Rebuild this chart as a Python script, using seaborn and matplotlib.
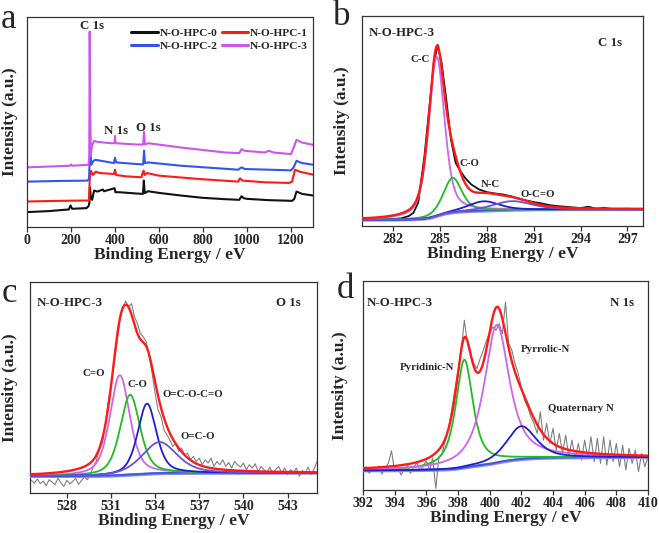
import numpy as np
import pandas as pd
import matplotlib
matplotlib.use("Agg")
import matplotlib.pyplot as plt
import seaborn as sns

# ---------------- Panel a: XPS survey spectra ----------------
sample_names = ["N-O-HPC-0", "N-O-HPC-1", "N-O-HPC-2", "N-O-HPC-3"]

survey0_x = [0, 100, 190, 198, 205, 270, 280, 284, 286, 290, 296, 305, 320, 345, 350, 398, 402, 420,
             500, 527, 531, 535, 550, 600, 700, 800, 900, 965, 975, 985, 1000, 1100, 1205, 1215, 1225, 1250, 1300]
survey0_y = [45, 48, 53, 65, 55, 57, 63, 75, 120, 90, 82, 110, 107, 113, 108, 117, 105, 105,
             101, 100, 140, 102, 108, 103, 95, 88, 84, 82, 93, 87, 85, 81, 79, 85, 107, 100, 95]

survey1_x = [0, 150, 275, 282, 285, 290, 300, 312, 330, 395, 400, 405, 450, 520, 527, 530, 535, 545,
             600, 780, 960, 968, 980, 1080, 1190, 1205, 1218, 1240, 1300]
survey1_y = [77, 79, 80, 81, 145, 170, 157, 167, 163, 160, 173, 157, 153, 150, 167, 170, 157, 163,
             155, 145, 137, 147, 140, 135, 133, 137, 173, 167, 158]

survey2_x = [0, 150, 275, 282, 285, 288, 292, 300, 310, 395, 400, 405, 500, 528, 532, 536, 550, 700,
             960, 975, 990, 1100, 1200, 1212, 1225, 1250, 1300]
survey2_y = [137, 139, 140, 145, 205, 230, 188, 198, 203, 193, 209, 195, 190, 189, 230, 193, 195, 185,
             173, 180, 175, 173, 171, 180, 200, 193, 188]

survey3_x = [0, 195, 200, 205, 280, 283, 285, 287, 290, 295, 305, 320, 380, 398, 400, 402, 500, 528,
             532, 536, 550, 700, 900, 965, 975, 990, 1080, 1100, 1120, 1200, 1212, 1225, 1250, 1300]
survey3_y = [180, 185, 189, 185, 188, 215, 590, 385, 215, 245, 260, 257, 253, 253, 275, 253, 249, 249,
             287, 249, 253, 240, 225, 223, 235, 230, 225, 230, 225, 220, 240, 263, 255, 248]

survey_ticks = [0, 200, 400, 600, 800, 1000, 1200]

# ---------------- Panel b: C 1s ----------------
c1s_labels = ["C-C", "C-O", "N-C", "O-C=O"]
c1s_center = [284.78, 285.8, 287.8, 289.6]
c1s_height = [480, 105, 29, 27]
c1s_fwhm = [1.2, 1.4, 2.4, 3.0]
c1s_eta = [0.5, 0.5, 0.5, 0.5]
c1s_bg_low, c1s_bg_high = 18, 50
c1s_raw_x = [280, 281, 282, 282.5, 283, 283.3, 283.6, 284.0, 284.3, 284.6, 284.85, 285.1, 285.4, 285.7,
             286.0, 286.3, 286.6, 287, 287.5, 288, 288.5, 289, 289.5, 290, 290.5, 291, 291.5, 292,
             292.5, 293, 293.5, 294, 294.5, 295, 295.5, 296, 297, 298]
c1s_raw_y = [18, 19, 21, 23, 30, 40, 70, 210, 350, 490, 545, 490, 380, 260, 190, 165, 145, 125, 110, 102,
             98, 95, 90, 83, 77, 72, 68, 63, 60, 58, 56, 54, 58, 52, 55, 51, 52, 50]
c1s_ticks = [282, 285, 288, 291, 294, 297]

# ---------------- Panel c: O 1s ----------------
o1s_labels = ["C=O", "C-O", "O=C-O-C=O", "O=C-O"]
o1s_center = [531.6, 532.3, 533.45, 534.3]
o1s_height = [302, 241, 212, 95]
o1s_fwhm = [1.6, 1.6, 1.5, 2.8]
o1s_eta = [0.5, 0.5, 0.5, 0.5]
o1s_bg_low, o1s_bg_high = 50, 60
o1s_raw_y = [38, 30, 42, 28, 36, 22, 40, 33, 25, 45, 30, 20, 38, 27, 35, 44, 26, 38, 48, 40, 55,
             80, 95, 130, 150, 200, 270, 320, 390, 450, 520, 555, 578, 560, 570, 530, 510, 480, 470,
             455, 410, 360, 300, 250, 230, 190, 175, 160, 140, 150, 125, 135, 115, 120, 100, 110, 95,
             105, 85, 100, 90, 105, 80, 95, 85, 100, 80, 92, 75, 95, 85, 78, 90, 70, 85, 75, 88, 65,
             80, 70, 62, 78, 58, 72, 80, 60, 75, 55, 70, 62, 75, 50, 68, 60, 78, 55, 72, 95]
o1s_raw_start, o1s_raw_end = 525.6, 545.0
o1s_ticks = [528, 531, 534, 537, 540, 543]

# ---------------- Panel d: N 1s ----------------
n1s_labels = ["Pyridinic-N", "Pyrrolic-N", "Quaternary N"]
n1s_center = [398.4, 400.45, 402.0]
n1s_height = [325, 415, 100]
n1s_fwhm = [1.3, 1.9, 2.2]
n1s_eta = [0.8, 0.8, 0.6]
n1s_bg_low, n1s_bg_high = 58, 98
n1s_raw_y = [60, 70, 50, 68, 55, 72, 48, 65, 80, 118, 55, 70, 45, 62, 75, 50, 68, 82, 58, 72, 88, 60,
             95, 5, 100, 110, 150, 185, 240, 300, 360, 420, 510, 440, 400, 380, 365, 395, 420, 450,
             470, 490, 480, 500, 470, 565, 440, 420, 380, 350, 310, 270, 250, 220, 200, 170, 235, 150,
             200, 140, 185, 120, 170, 110, 165, 100, 150, 95, 140, 90, 150, 95, 160, 85, 155, 80, 160,
             75, 150, 85, 140, 70, 135, 60, 125, 80, 120, 55, 110, 70, 100]
n1s_raw_start, n1s_raw_end = 392.0, 410.0
n1s_ticks = [392, 394, 396, 398, 400, 402, 404, 406, 408, 410]


def pvoigt(x, center, height, fwhm, eta):
    lor = 1.0 / (1.0 + ((x - center) / (fwhm / 2.0)) ** 2)
    gau = np.exp(-4 * np.log(2) * ((x - center) / fwhm) ** 2)
    return height * (eta * lor + (1 - eta) * gau)


def shirley(total, low, high):
    cum = np.cumsum(total)
    return low + (high - low) * cum / cum[-1]


# ---------------- styling ----------------
sns.set_theme(style="white")
plt.rcParams["font.family"] = ["Liberation Serif", "DejaVu Serif"]
plt.rcParams["font.weight"] = "bold"
plt.rcParams["axes.labelweight"] = "bold"
plt.rcParams["axes.edgecolor"] = "#333333"
plt.rcParams["axes.linewidth"] = 0.9

fig = plt.figure(figsize=(6.59, 5.33), dpi=100)
W, H = 659.0, 533.0


def add_ax(left, top, right, bottom):
    return fig.add_axes([left / W, 1 - bottom / H, (right - left) / W, (bottom - top) / H])


ax_a = add_ax(27, 17, 313, 227)
ax_b = add_ax(362, 16, 643, 226)
ax_c = add_ax(30, 282, 317, 493)
ax_d = add_ax(363, 281, 648, 490)

RED = "#ff1a1a"
MAG = "#cc66ee"
GRN = "#22bb22"
BLU = "#1f1fcc"
VIO = "#6655dd"
BG1 = "#3a5ad8"
BG2 = "#8888ee"


def style_axis(ax, xlim, ylim, ticks, ylab_x):
    ax.set_xlim(*xlim)
    ax.set_ylim(*ylim)
    ax.set_xticks(ticks)
    ax.set_xticklabels([str(t) for t in ticks], fontsize=10, fontweight="bold")
    ax.set_yticks([])
    ax.tick_params(axis="x", direction="out", length=3.5, width=0.9, pad=1.5,
                   bottom=True, color="#333333")
    ax.set_xlabel("Binding Energy / eV", fontsize=12.5, fontweight="bold", labelpad=0)
    ax.set_ylabel("Intensity (a.u.)", fontsize=12.5, fontweight="bold")
    ax.yaxis.set_label_coords(ylab_x, 0.5)
    for s in ax.spines.values():
        s.set_visible(True)
        s.set_color("#333333")


# ---------------- Panel a ----------------
frames = []
for name, xs, ys in zip(sample_names, [survey0_x, survey1_x, survey2_x, survey3_x],
                        [survey0_y, survey1_y, survey2_y, survey3_y]):
    frames.append(pd.DataFrame({"energy": xs, "intensity": ys, "sample": name}))
survey = pd.concat(frames, ignore_index=True)
palette_a = {"N-O-HPC-0": "#111111", "N-O-HPC-1": RED, "N-O-HPC-2": "#3355ee", "N-O-HPC-3": "#cc55ee"}
sns.lineplot(data=survey, x="energy", y="intensity", hue="sample", palette=palette_a,
             estimator=None, sort=False, linewidth=1.5, ax=ax_a)
h, l = ax_a.get_legend_handles_labels()
order = [0, 2, 1, 3]
for hh in h:
    hh.set_linewidth(2.2)
ax_a.legend([h[i] for i in order], [l[i] for i in order], ncol=2, frameon=False,
            loc="upper left", bbox_to_anchor=(0.345, 0.975), borderpad=0,
            handlelength=2.3, handletextpad=0.2, columnspacing=0.35, labelspacing=0.25,
            prop={"size": 8.2, "weight": "bold"})
style_axis(ax_a, (0, 1300), (0, 634), survey_ticks, -0.031)
ax_a.text(295, 0.958 * 634, "C 1s", ha="center", va="center", fontsize=9.3, fontweight="bold")
ax_a.text(405, 0.457 * 634, "N 1s", ha="center", va="center", fontsize=9.3, fontweight="bold")
ax_a.text(550, 0.473 * 634, "O 1s", ha="center", va="center", fontsize=9.3, fontweight="bold")


# ---------------- fitted panels ----------------
def draw_fit(ax, grid, centers, heights, fwhms, etas, colors, low, high, raw_x, raw_y, raw_color, raw_lw):
    comps = [pvoigt(grid, c, h_, f, e) for c, h_, f, e in zip(centers, heights, fwhms, etas)]
    total = np.sum(comps, axis=0)
    bg = shirley(total, low, high)
    sns.lineplot(x=raw_x, y=raw_y, ax=ax, color=raw_color, linewidth=raw_lw,
                 estimator=None, sort=False, zorder=2)
    sns.lineplot(x=grid, y=bg, ax=ax, color=BG2, linewidth=2.4, estimator=None, sort=False, zorder=3)
    sns.lineplot(x=grid, y=bg + 1.5, ax=ax, color=BG1, linewidth=1.3, estimator=None, sort=False, zorder=3)
    for comp, col in zip(comps, colors):
        sns.lineplot(x=grid, y=bg + comp, ax=ax, color=col, linewidth=1.3,
                     estimator=None, sort=False, zorder=4)
    sns.lineplot(x=grid, y=bg + total, ax=ax, color=RED, linewidth=1.7,
                 estimator=None, sort=False, zorder=5)


# Panel b
grid_b = np.linspace(280, 298, 901)
draw_fit(ax_b, grid_b, c1s_center, c1s_height, c1s_fwhm, c1s_eta, [MAG, GRN, BLU, VIO],
         c1s_bg_low, c1s_bg_high, c1s_raw_x, c1s_raw_y, "#111111", 1.3)
style_axis(ax_b, (280, 298), (0, 632), c1s_ticks, -0.043)
tb = ax_b.transAxes
ax_b.text(0.025, 0.919, "N-O-HPC-3", transform=tb, ha="left", va="center", fontsize=9.3, fontweight="bold")
ax_b.text(0.883, 0.873, "C 1s", transform=tb, ha="center", va="center", fontsize=9.3, fontweight="bold")
for lab, fx, fy in zip(c1s_labels, [0.206, 0.384, 0.458, 0.626], [0.794, 0.298, 0.198, 0.151]):
    ax_b.text(fx, fy, lab, transform=tb, ha="center", va="center", fontsize=7.8, fontweight="bold")

# Panel c
grid_c = np.linspace(525.5, 545, 976)
o1s_raw_x = np.linspace(o1s_raw_start, o1s_raw_end, len(o1s_raw_y))
draw_fit(ax_c, grid_c, o1s_center, o1s_height, o1s_fwhm, o1s_eta, [MAG, GRN, BLU, VIO],
         o1s_bg_low, o1s_bg_high, o1s_raw_x, o1s_raw_y, "#808080", 0.8)
style_axis(ax_c, (525.5, 545), (0, 635), o1s_ticks, -0.042)
tc = ax_c.transAxes
ax_c.text(0.023, 0.899, "N-O-HPC-3", transform=tc, ha="left", va="center", fontsize=9.3, fontweight="bold")
ax_c.text(0.902, 0.899, "O 1s", transform=tc, ha="center", va="center", fontsize=9.3, fontweight="bold")
for lab, fx, fy in zip(o1s_labels, [0.222, 0.376, 0.567, 0.583], [0.567, 0.515, 0.468, 0.267]):
    ax_c.text(fx, fy, lab, transform=tc, ha="center", va="center", fontsize=7.8, fontweight="bold")

# Panel d
grid_d = np.linspace(392, 410, 901)
n1s_raw_x = np.linspace(n1s_raw_start, n1s_raw_end, len(n1s_raw_y))
draw_fit(ax_d, grid_d, n1s_center, n1s_height, n1s_fwhm, n1s_eta, [GRN, MAG, BLU],
         n1s_bg_low, n1s_bg_high, n1s_raw_x, n1s_raw_y, "#808080", 0.8)
style_axis(ax_d, (392, 410), (0, 628), n1s_ticks, -0.053)
td = ax_d.transAxes
ax_d.text(0.013, 0.896, "N-O-HPC-3", transform=td, ha="left", va="center", fontsize=9.3, fontweight="bold")
ax_d.text(0.91, 0.896, "N 1s", transform=td, ha="center", va="center", fontsize=9.3, fontweight="bold")
for lab, fx, fy in zip(n1s_labels, [0.223, 0.64, 0.764], [0.585, 0.67, 0.391]):
    ax_d.text(fx, fy, lab, transform=td, ha="center", va="center", fontsize=7.8, fontweight="bold")

# panel letters
for letter, px, py in [("a", 1, 28), ("b", 333, 25), ("c", 2, 302), ("d", 337, 298)]:
    fig.text(px / W, 1 - py / H, letter, ha="left", va="baseline", fontsize=25,
             fontweight="normal", family=["Liberation Serif"])

fig.savefig("out.png", dpi=100)
